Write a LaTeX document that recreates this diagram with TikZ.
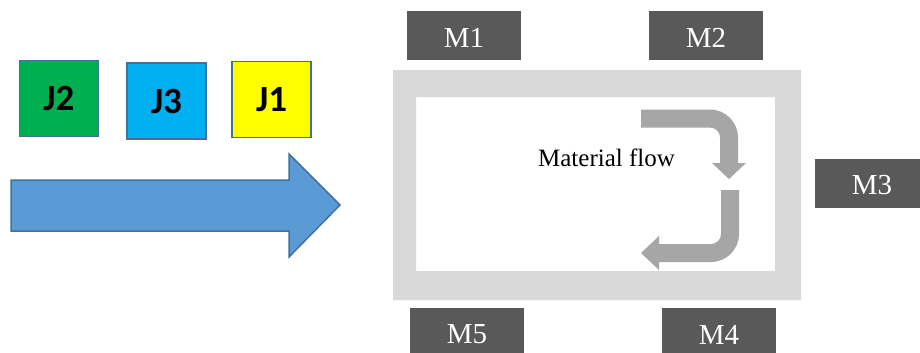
\documentclass[tikz,border=0pt]{standalone}
\usepackage{fontspec}
\setmainfont{Liberation Serif}
\newfontfamily\calfont{Carlito}
\definecolor{machine}{HTML}{595959}
\definecolor{track}{HTML}{D9D9D9}
\definecolor{flowgray}{HTML}{A6A6A6}
\definecolor{outline}{HTML}{41719C}
\definecolor{bigblue}{HTML}{5B9BD5}
\definecolor{jgreen}{HTML}{00B050}
\definecolor{jcyan}{HTML}{00B0F0}
\definecolor{jyellow}{HTML}{FFFF00}
\tikzset{
  machinebox/.style={rectangle, fill=machine, draw=none, minimum width=114pt,
    minimum height=49pt, inner sep=0pt},
  machinelabel/.style={text=white, font=\fontsize{29}{30}\selectfont},
  jobbox/.style={rectangle, draw=outline, line width=1.5pt, minimum width=79pt,
    minimum height=76pt, inner sep=0pt, font=\calfont\bfseries\fontsize{37}{39}\selectfont},
}
\newcommand{\machine}[3]{%
  \node[machinebox] (#1) at (#2) {};
  \node[machinelabel, yshift=-2pt] (#1-label) at (#1.center) {#3};
}
\begin{document}
\begin{tikzpicture}[x=1pt,y=-1pt]
\useasboundingbox (0,0) rectangle (920,353);
\fill[white] (0,0) rectangle (920,353);

% jobs waiting in the queue
\node[jobbox, fill=jgreen]  (j2) at (59,98.5)  {J2};
\node[jobbox, fill=jcyan]   (j3) at (166.5,101) {J3};
\node[jobbox, fill=jyellow] (j1) at (271.5,99.5) {J1};

% arrival arrow
\filldraw[fill=bigblue, draw=outline, line width=1.5pt, line join=miter]
  (11,180) -- (289,180) -- (289,154) -- (340,205) -- (289,257) -- (289,231) -- (11,231) -- cycle;

% conveyor loop
\fill[track, even odd rule] (393,70) rectangle (801,300) (416,97) rectangle (775,271);

% material flow arrows
\fill[flowgray]
  (641,109.5) -- (710,109.5) arc[start angle=90, end angle=0, radius=28pt]
  -- (738,163) -- (746,163) -- (729,179) -- (712,163) -- (720,163)
  -- (720,137.5) arc[start angle=0, end angle=90, radius=10pt]
  -- (641,127.5) -- cycle;
\fill[flowgray]
  (721,190) -- (739,190) -- (739,234) arc[start angle=0, end angle=-90, radius=28pt]
  -- (659,262) -- (659,270) -- (641,253) -- (659,236) -- (659,244)
  -- (711,244) arc[start angle=-90, end angle=0, radius=10pt] -- cycle;
\node[anchor=base, font=\fontsize{25}{26}\selectfont] (flow) at (606.5,166) {Material flow};

% machines
\machine{m1}{464,35.5}{M1}
\machine{m2}{706,35.5}{M2}
\machine{m3}{872,183.5}{M3}
\machine{m4}{719,332.5}{M4}
\machine{m5}{467,332.5}{M5}
\end{tikzpicture}
\end{document}
